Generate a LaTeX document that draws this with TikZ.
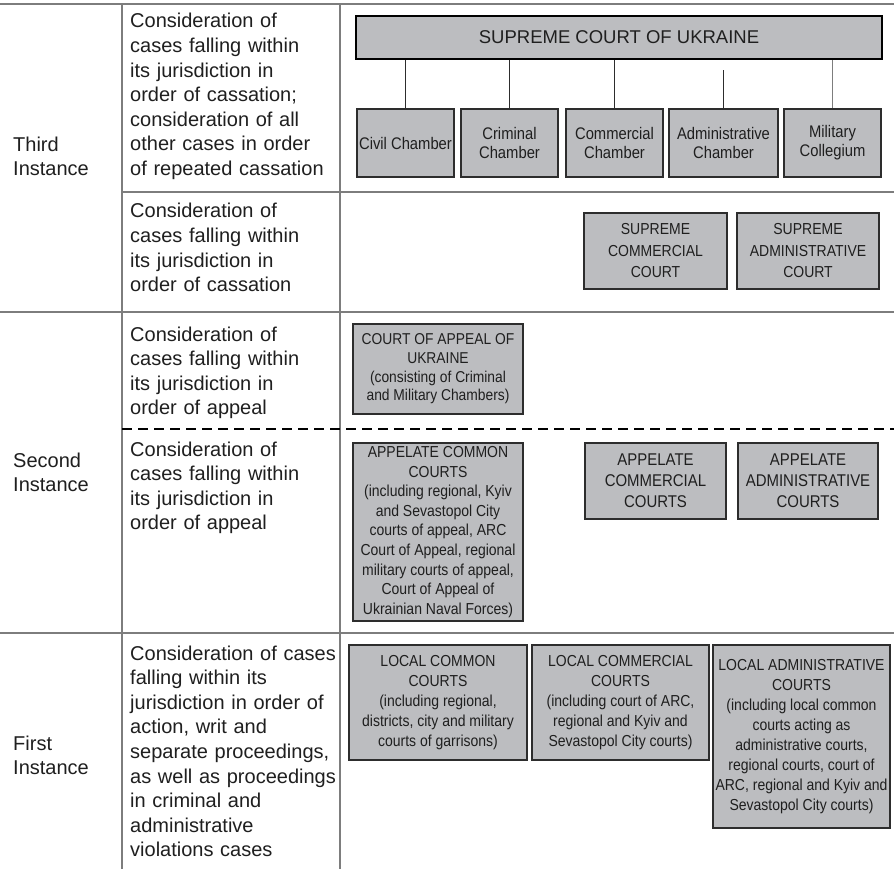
\documentclass[tikz,border=0pt]{standalone}
\usepackage{fontspec}
\setmainfont{Liberation Sans}
\newfontfamily\courtfont{Liberation Sans}[FakeStretch=0.88]
\usepackage{xcolor}
\definecolor{boxgrey}{RGB}{188,189,192}
\definecolor{rulegrey}{RGB}{125,125,125}
\definecolor{inkgrey}{RGB}{45,45,45}

\begin{document}
\begin{tikzpicture}
  [x=1pt,y=-1pt,
   court/.style={draw=inkgrey,fill=boxgrey,line width=1.1pt,inner sep=0pt,align=center,text=black!88},
   chamber/.style={court,minimum width=97pt,minimum height=68pt,font=\courtfont\fontsize{16.8}{19}\selectfont},
   highcourt/.style={court,minimum height=76pt,font=\courtfont\fontsize{15.9}{21.5}\selectfont},
   appcourt/.style={court,minimum height=76pt,font=\courtfont\fontsize{17}{21}\selectfont},
   localcourt/.style={court,minimum width=177pt,font=\courtfont\fontsize{15.9}{20}\selectfont},
   link/.style={draw=inkgrey,line width=0.9pt},
   rule/.style={draw=rulegrey,line width=1.2pt},
   instance/.style={anchor=base west,inner sep=0pt,align=left,text width=105pt,text=black!88,font=\fontsize{20}{24}\selectfont},
   duty/.style={instance,text width=212pt,font=\fontsize{20}{24.6}\selectfont}]
  \useasboundingbox (0,0) rectangle (894,869);
  \fill[white] (0,0) rectangle (894,869);

  \foreach \y/\x in {4/0,192/122,312/0,633/0}
    \draw[rule] (\x,\y) -- (894,\y);
  \foreach \x in {122,340}
    \draw[rule] (\x,4) -- (\x,869);
  \draw[line width=2pt,dash pattern=on 10pt off 6pt] (122,429) -- (894,429);

  \node[instance] (third)  at (13,152) {Third\\Instance};
  \node[instance] (second) at (13,467) {Second\\Instance};
  \node[instance] (first)  at (13,750) {First\\Instance};

  \node[duty] (cass1) at (130,28) {Consideration of\\cases falling within\\its jurisdiction in\\order of cassation;\\consideration of all\\other cases in order\\of repeated cassation};
  \node[duty] (cass2) at (130,218) {Consideration of\\cases falling within\\its jurisdiction in\\order of cassation};
  \node[duty] (appl1) at (130,341) {Consideration of\\cases falling within\\its jurisdiction in\\order of appeal};
  \node[duty] (appl2) at (130,456) {Consideration of\\cases falling within\\its jurisdiction in\\order of appeal};
  \node[duty] (action) at (130,660) {Consideration of cases\\falling within its\\jurisdiction in order of\\action, writ and\\separate proceedings,\\as well as proceedings\\in criminal and\\administrative\\violations cases};

  \node[court,draw=black,line width=2.4pt,minimum width=526pt,minimum height=43pt,font=\fontsize{18.5}{22}\selectfont] (sup) at (619,37.5) {SUPREME COURT OF UKRAINE};
  \node[chamber] (civ)  at (405.5,143) {Civil Chamber};
  \node[chamber] (crim) at (509.5,143) {Criminal\\Chamber};
  \node[chamber] (comm) at (614.5,143) {Commercial\\Chamber};
  \node[chamber,minimum width=109pt] (adm) at (723.5,143) {Administrative\\Chamber};
  \node[chamber] (mil)  at (832.5,143) {Military\\Collegium};

  \node[highcourt,minimum width=143pt] (supcomm) at (655.5,251) {SUPREME\\COMMERCIAL\\COURT};
  \node[highcourt,minimum width=142pt] (supadm)  at (808,251) {SUPREME\\ADMINISTRATIVE\\COURT};

  \node[court,minimum width=170pt,minimum height=90pt,font=\courtfont\fontsize{15.7}{18.7}\selectfont] (appeal) at (438,369) {COURT OF APPEAL OF\\UKRAINE\\(consisting of Criminal\\and Military Chambers)};
  \node[court,minimum width=170pt,minimum height=178pt,font=\courtfont\fontsize{15.9}{19.6}\selectfont] (appcommon) at (438,532) {APPELATE COMMON\\COURTS\\(including regional, Kyiv\\and Sevastopol City\\courts of appeal, ARC\\Court of Appeal, regional\\military courts of appeal,\\Court of Appeal of\\Ukrainian Naval Forces)};
  \node[appcourt,minimum width=141pt] (appcomm) at (655.5,481) {APPELATE\\COMMERCIAL\\COURTS};
  \node[appcourt,minimum width=140pt] (appadm)  at (808,481) {APPELATE\\ADMINISTRATIVE\\COURTS};

  \node[localcourt,minimum width=178pt,minimum height=115pt] (loccommon) at (438,702.5) {LOCAL COMMON\\COURTS\\(including regional,\\districts, city and military\\courts of garrisons)};
  \node[localcourt,minimum height=115pt] (loccomm) at (620.5,702.5) {LOCAL COMMERCIAL\\COURTS\\(including court of ARC,\\regional and Kyiv and\\Sevastopol City courts)};
  \node[localcourt,minimum height=183pt] (locadm) at (801.5,736.5) {LOCAL ADMINISTRATIVE\\COURTS\\(including local common\\courts acting as\\administrative courts,\\regional courts, court of\\ARC, regional and Kyiv and\\Sevastopol City courts)};

  \foreach \to in {civ,crim,comm}
    \draw[link] (sup.south -| \to) -- (\to);
  \draw[link,draw=rulegrey] (sup.south -| mil) -- (mil);
  \path (adm.north) ++(0,-38) coordinate (admtop);
  \draw[link] (admtop) -- (adm);

\end{tikzpicture}
\end{document}
